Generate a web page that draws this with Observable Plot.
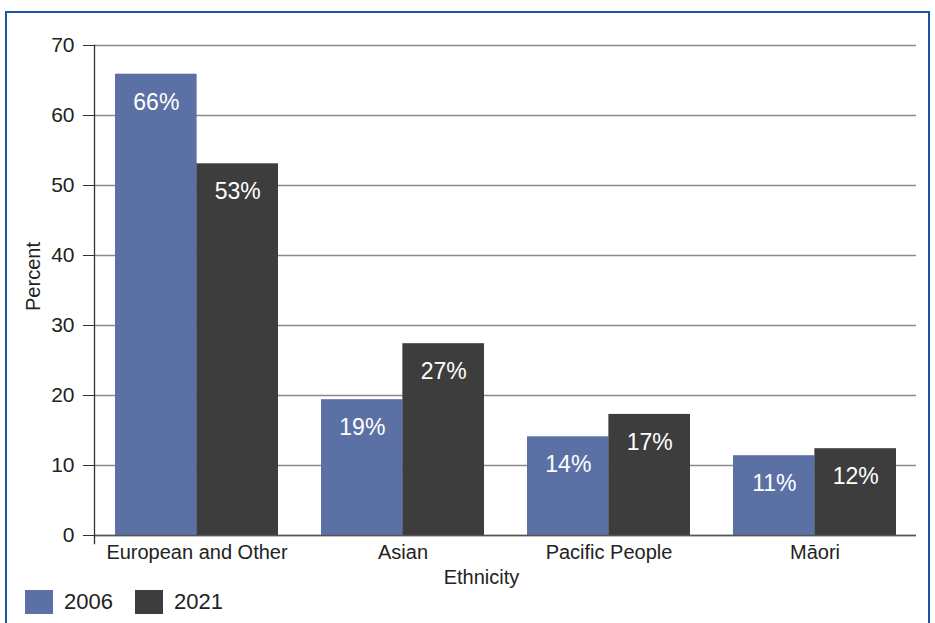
<!DOCTYPE html>
<html>
<head>
<meta charset="utf-8">
<script src="https://cdn.jsdelivr.net/npm/d3@7"></script>
<script src="https://cdn.jsdelivr.net/npm/@observablehq/plot@0.6"></script>
<style>
  html, body { margin: 0; padding: 0; background: #fff; width: 935px; height: 623px; overflow: hidden; }
  #frame { position: absolute; left: 5px; top: 11px; width: 921px; height: 640px; border: 2px solid #1b57a1; }
  #chart { position: absolute; left: 0; top: 0; }
  #legend { position: absolute; left: 25px; top: 585px; }
  text { font-family: "Liberation Sans", Arial, sans-serif; }
</style>
</head>
<body>
<div id="frame"></div>
<div id="chart"></div>
<div id="legend"></div>
<script>
const categories = ["European and Other", "Asian", "Pacific People", "Māori"];
const years = ["2006", "2021"];
const values2006 = [65.9, 19.4, 14.1, 11.4];
const values2021 = [53.1, 27.4, 17.3, 12.4];
const labels2006 = ["66%", "19%", "14%", "11%"];
const labels2021 = ["53%", "27%", "17%", "12%"];
const yTicks = [0, 10, 20, 30, 40, 50, 60, 70];
const colors = ["#5b71a5", "#3d3d3d"];

const rows = [];
categories.forEach((c, i) => {
  rows.push({category: c, year: years[0], value: values2006[i], label: labels2006[i]});
  rows.push({category: c, year: years[1], value: values2021[i], label: labels2021[i]});
});

const W = 935, H = 590;
const mL = 94, mR = 19, mT = 45, mB = 55;
const pInner = 0.21, pOuter = 0.1;
const bw = d3.scaleBand().domain(categories).range([mL, W - mR]).paddingInner(pInner).paddingOuter(pOuter).bandwidth();
const half = bw / 2;

const font = '"Liberation Sans", Arial, sans-serif';

const chart = Plot.plot({
  width: W,
  height: H,
  marginLeft: mL,
  marginRight: mR,
  marginTop: mT,
  marginBottom: mB,
  style: {fontFamily: font, fontSize: "20px", color: "#222", background: "transparent"},
  x: {domain: categories, paddingInner: pInner, paddingOuter: pOuter, label: null},
  y: {domain: [0, 70], label: null},
  color: {domain: years, range: colors},
  marks: [
    Plot.gridY(yTicks, {stroke: "#8a8a8a", strokeOpacity: 1, strokeWidth: 1.3}),
    Plot.barY(rows.filter(d => d.year === years[0]), {x: "category", y: "value", fill: "year", insetRight: half, insetLeft: 0}),
    Plot.barY(rows.filter(d => d.year === years[1]), {x: "category", y: "value", fill: "year", insetLeft: half, insetRight: 0}),
    Plot.text(rows.filter(d => d.year === years[0]), {x: "category", y: "value", text: "label", dx: -half / 2, dy: 28, fill: "white", fontSize: 23}),
    Plot.text(rows.filter(d => d.year === years[1]), {x: "category", y: "value", text: "label", dx: half / 2, dy: 28, fill: "white", fontSize: 23}),
    Plot.ruleY([0], {stroke: "#555", strokeWidth: 1.5}),
    Plot.frame({anchor: "left", stroke: "#333", strokeWidth: 1.3, insetBottom: -8}),
    Plot.axisY(yTicks, {tickSize: 11, tickPadding: 9, stroke: "#333", fontSize: 21, label: null}),
    Plot.axisX({tickSize: 0, tickPadding: 9, fontSize: 20, label: null}),
    Plot.text(["Percent"], {frameAnchor: "left", textAnchor: "middle", rotate: -90, dx: -61, dy: -14, fontSize: 20, fill: "#222", text: d => d}),
    Plot.text(["Ethnicity"], {frameAnchor: "bottom", dx: -24, dy: 48, fontSize: 20, fill: "#222", text: d => d})
  ]
});
document.getElementById("chart").appendChild(chart);

const legend = Plot.legend({
  color: {domain: years, range: colors},
  swatchWidth: 28,
  swatchHeight: 24,
  style: {fontFamily: font, fontSize: "22px", color: "#222"}
});
document.getElementById("legend").appendChild(legend);
</script>
</body>
</html>
